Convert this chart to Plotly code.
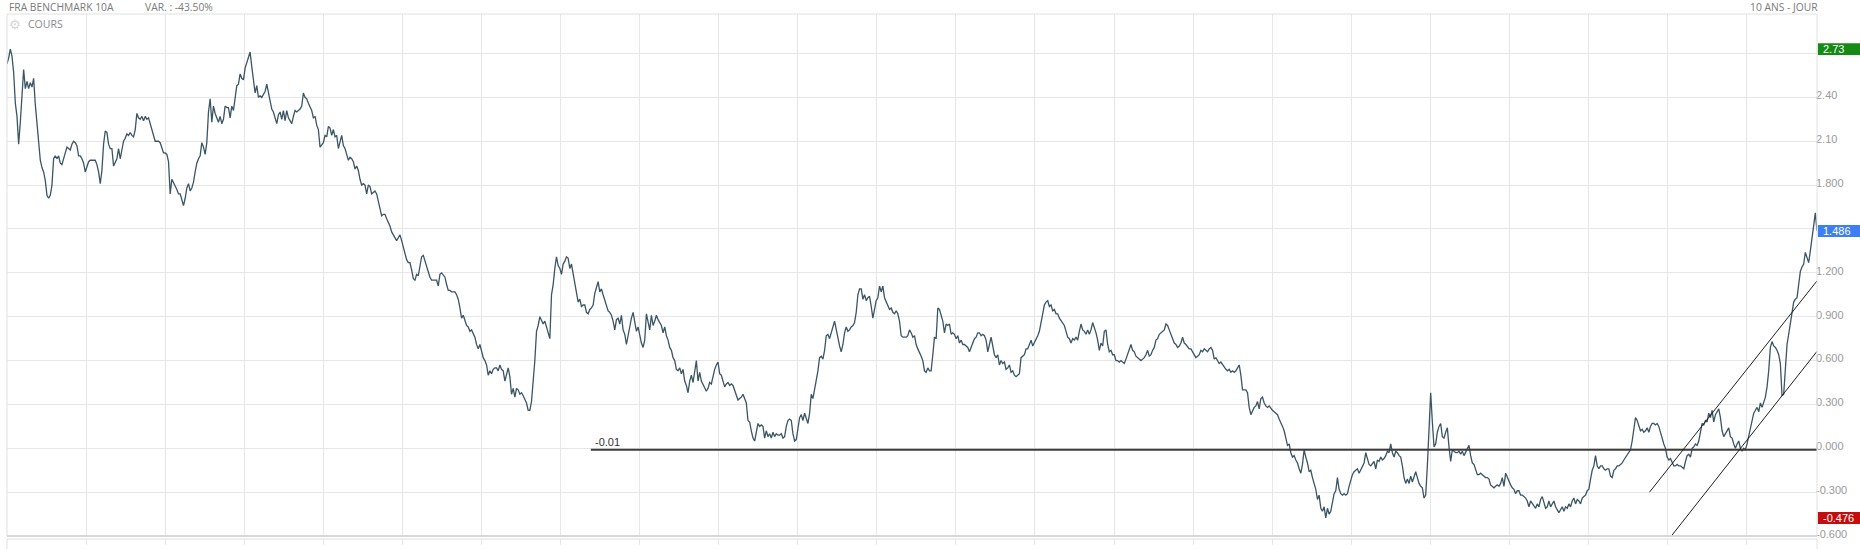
import pandas as pd
import plotly.graph_objects as go

# ---------------- data (FRA Benchmark 10A, 10 ans - jour, sampled evenly) ----------------
START = "2012-05-14"
END = "2022-05-14"
N_STEPS = 1087          # number of sampling steps between START and END

seg_a = [  # first sample index 0
    2.63, 2.67, 2.73, 2.68, 2.57, 2.36, 2.27, 2.08, 2.23, 2.42,
    2.59, 2.46, 2.51, 2.46, 2.50, 2.47, 2.53, 2.35, 2.23, 2.09,
    1.97, 1.92, 1.89, 1.83, 1.73, 1.71, 1.73, 1.80, 1.98, 2.00,
    1.98, 2.00, 1.95, 1.94, 1.98, 2.03, 2.06, 2.05, 2.04, 2.08,
    2.10, 2.09, 2.07, 2.00, 2.00, 1.98, 1.95, 1.89, 1.93, 1.96,
    1.97, 1.97, 1.97, 1.97, 1.94, 1.89, 1.81, 1.90, 2.08, 2.17,
    2.16, 2.08, 2.05, 2.05, 1.93, 1.96, 1.98, 2.05, 1.98, 2.04,
    2.10, 2.12, 2.15, 2.14, 2.16, 2.14, 2.13, 2.18, 2.29, 2.26,
    2.25, 2.27, 2.24, 2.27, 2.25, 2.26, 2.22, 2.18, 2.13, 2.10,
    2.10, 2.10, 2.09, 2.05, 2.02, 2.02, 2.01, 1.96, 1.74, 1.84,
    1.82, 1.79, 1.77, 1.74, 1.74, 1.70, 1.66, 1.71, 1.78, 1.81,
    1.76, 1.78, 1.82, 1.89, 1.95, 1.98, 2.00, 2.09, 2.06, 2.01,
    2.09, 2.30, 2.39, 2.23, 2.34, 2.29, 2.26, 2.23, 2.27, 2.22,
    2.25, 2.34, 2.33, 2.33, 2.26, 2.34, 2.31, 2.41, 2.48, 2.49,
    2.56, 2.53, 2.52, 2.60, 2.64, 2.67, 2.71, 2.61, 2.50, 2.43,
    2.48, 2.40, 2.41, 2.40, 2.42, 2.44, 2.49, 2.43, 2.39, 2.32,
    2.30, 2.25, 2.22, 2.28, 2.30, 2.25, 2.31, 2.24, 2.31, 2.26,
    2.24, 2.22, 2.27, 2.31, 2.30, 2.31, 2.32, 2.34, 2.43, 2.40,
    2.39, 2.36, 2.34, 2.31, 2.26, 2.27, 2.21, 2.18, 2.06, 2.08,
    2.09, 2.14, 2.13, 2.20, 2.19, 2.14, 2.18, 2.13, 2.14, 2.05,
    2.09, 2.14, 2.07, 2.05, 2.01, 1.97, 1.99, 1.98, 1.96, 1.91,
    1.93, 1.90, 1.84, 1.80, 1.81, 1.80, 1.74, 1.80, 1.79, 1.74,
    1.75, 1.76, 1.74, 1.69, 1.64, 1.59, 1.60, 1.60, 1.57, 1.55,
    1.52, 1.48, 1.46, 1.44, 1.42, 1.44, 1.46, 1.42, 1.38, 1.33,
    1.29, 1.27, 1.27, 1.22, 1.16, 1.15, 1.19, 1.18, 1.26, 1.31,
    1.32, 1.28, 1.24, 1.20, 1.17, 1.15, 1.15, 1.15, 1.15, 1.11,
    1.19, 1.20, 1.18, 1.17, 1.12, 1.08, 1.08, 1.07, 1.07, 1.07,
    1.05, 1.02, 0.96,
]
seg_b = [  # first sample index 273
    0.89, 0.91, 0.88, 0.84, 0.83, 0.80, 0.81, 0.78, 0.76, 0.71,
    0.68, 0.71, 0.67, 0.62, 0.60, 0.57, 0.50, 0.53, 0.51, 0.54,
    0.55, 0.55, 0.53, 0.57, 0.54, 0.53, 0.46, 0.51, 0.55, 0.49,
    0.37, 0.41, 0.35, 0.41, 0.40, 0.37, 0.38, 0.36, 0.34, 0.31,
    0.26, 0.26, 0.32, 0.44, 0.60, 0.80, 0.84, 0.90, 0.87, 0.85,
    0.87, 0.83, 0.78, 0.75, 1.05, 1.12, 1.23, 1.31, 1.25, 1.23,
    1.19, 1.26, 1.28, 1.31, 1.30, 1.23, 1.26, 1.19, 1.11, 1.06,
    1.00, 1.02, 0.97, 0.98, 0.98, 0.93, 0.92, 0.95, 0.96, 0.98,
    1.06, 1.10, 1.14, 1.07, 1.09, 1.05, 1.01, 0.98, 0.94, 0.93,
    0.91, 0.87, 0.81, 0.88, 0.89, 0.85, 0.91, 0.81, 0.78, 0.71,
    0.77, 0.85, 0.89, 0.93, 0.86, 0.80, 0.83, 0.76, 0.72, 0.69,
    0.74, 0.92, 0.85, 0.81, 0.91, 0.84, 0.87, 0.91, 0.88, 0.86,
    0.84, 0.79, 0.83, 0.77, 0.74, 0.69, 0.67, 0.62, 0.60, 0.54,
    0.53, 0.55, 0.51, 0.54, 0.46, 0.43, 0.38, 0.46, 0.50, 0.45,
    0.53, 0.60, 0.46, 0.52, 0.46, 0.44, 0.42, 0.39, 0.41, 0.45,
    0.44, 0.50, 0.54, 0.57, 0.59, 0.51, 0.50, 0.46, 0.42, 0.44,
    0.45, 0.43, 0.44, 0.43, 0.40, 0.37, 0.33, 0.34, 0.35, 0.37,
    0.34, 0.31, 0.19, 0.18, 0.12, 0.07, 0.05, 0.11, 0.17, 0.15,
    0.16, 0.15, 0.07, 0.12, 0.08, 0.10, 0.07, 0.11, 0.08, 0.10,
    0.09, 0.09, 0.10, 0.07, 0.08, 0.15, 0.19, 0.20, 0.19, 0.10,
    0.05, 0.06, 0.14, 0.21, 0.23, 0.19, 0.24, 0.20, 0.17, 0.24,
    0.37, 0.34, 0.40, 0.46, 0.53, 0.62, 0.63, 0.61, 0.67, 0.77,
    0.78, 0.75, 0.80, 0.83, 0.87, 0.81, 0.76, 0.70, 0.66, 0.71,
    0.79, 0.83, 0.80, 0.81, 0.83, 0.84, 0.86, 0.93, 1.05, 1.09,
    1.09, 1.02, 1.05, 1.01, 1.03, 1.04, 0.97, 0.89, 0.95, 1.01,
    1.03, 1.11, 1.07, 1.11, 1.03, 1.00, 0.97, 0.95, 0.96, 0.93,
    0.92, 0.94, 0.92, 0.87, 0.77, 0.76, 0.76, 0.76, 0.77, 0.81,
    0.79, 0.76, 0.77, 0.71, 0.68, 0.66, 0.63, 0.60, 0.53, 0.52,
    0.55, 0.53,
]
seg_c = [  # first sample index 555
    0.53, 0.64, 0.76, 0.75, 0.96, 0.95, 0.91, 0.87, 0.79, 0.85,
    0.84, 0.85, 0.78, 0.79, 0.78, 0.75, 0.77, 0.72, 0.74, 0.71,
    0.71, 0.70, 0.69, 0.66, 0.69, 0.72, 0.75, 0.76, 0.79, 0.79,
    0.77, 0.78, 0.77, 0.74, 0.66, 0.71, 0.76, 0.70, 0.64, 0.62,
    0.64, 0.57, 0.60, 0.58, 0.59, 0.54, 0.55, 0.57, 0.52, 0.53,
    0.50, 0.49, 0.50, 0.51, 0.62, 0.63, 0.64, 0.68, 0.68, 0.71,
    0.74, 0.70, 0.72, 0.74, 0.77, 0.80, 0.86, 0.93, 0.98, 1.00,
    1.01, 0.97, 0.98, 0.94, 0.95, 0.92, 0.92, 0.89, 0.87, 0.86,
    0.84, 0.80, 0.76, 0.75, 0.72, 0.75, 0.74, 0.76, 0.74, 0.80,
    0.85, 0.81, 0.80, 0.78, 0.81, 0.78, 0.81, 0.86, 0.83, 0.79,
    0.74, 0.67, 0.72, 0.70, 0.80, 0.81, 0.71, 0.66, 0.67, 0.64,
    0.64, 0.60, 0.60, 0.59, 0.60, 0.59, 0.58, 0.61, 0.64, 0.68,
    0.71, 0.67, 0.66, 0.63, 0.62, 0.61, 0.60, 0.61, 0.62, 0.64,
    0.67, 0.63, 0.64, 0.67, 0.69, 0.74, 0.75, 0.78, 0.79, 0.80,
    0.81, 0.85, 0.84, 0.81, 0.78, 0.76, 0.72, 0.71, 0.69, 0.70,
    0.72, 0.76, 0.72, 0.71, 0.69, 0.68, 0.68, 0.66, 0.63, 0.62,
    0.63, 0.64, 0.67, 0.66, 0.68, 0.67, 0.66, 0.68, 0.69, 0.67,
    0.61, 0.62, 0.60, 0.58, 0.59, 0.57, 0.55, 0.54, 0.53, 0.54,
    0.52, 0.53, 0.52, 0.53, 0.55, 0.57, 0.50, 0.40, 0.40, 0.40,
    0.38, 0.28, 0.23, 0.26, 0.28, 0.29, 0.32, 0.27, 0.34, 0.35,
    0.31, 0.29, 0.28, 0.29, 0.27, 0.26, 0.25, 0.24, 0.23, 0.20,
    0.18, 0.15, 0.12, 0.07, 0.02, 0.03, -0.03, -0.06, -0.05, -0.08,
    -0.10, -0.14, -0.17, -0.11, -0.01, -0.06, -0.10, -0.16, -0.15, -0.20,
    -0.24, -0.28, -0.35, -0.32, -0.41, -0.43, -0.40, -0.476, -0.41, -0.45,
    -0.43, -0.37, -0.31, -0.29, -0.20, -0.28, -0.31, -0.32, -0.31, -0.32,
    -0.31, -0.26, -0.21, -0.18, -0.16, -0.15, -0.14, -0.17, -0.15, -0.12,
    -0.10, -0.03, -0.08, -0.11, -0.12, -0.10, -0.09, -0.14, -0.08, -0.09,
    -0.06, -0.08, -0.07, -0.05, -0.02, -0.03, 0.03, -0.03, -0.06, -0.02,
    -0.03, -0.05,
]
seg_d = [  # first sample index 837
    -0.06, -0.12, -0.20, -0.24, -0.21, -0.24, -0.19, -0.23, -0.20, -0.16,
    -0.20, -0.24, -0.26, -0.27, -0.34, -0.32, -0.12, 0.17, 0.38, 0.18,
    0.01, 0.03, 0.11, 0.15, 0.17, 0.08, 0.07, 0.11, 0.14, 0.01,
    -0.09, -0.01, -0.02, -0.03, -0.03, -0.02, -0.04, -0.02, -0.05, -0.03,
    -0.01, 0.02, -0.05, -0.10, -0.11, -0.15, -0.18, -0.18, -0.17, -0.18,
    -0.19, -0.20, -0.20, -0.21, -0.25, -0.26, -0.27, -0.26, -0.25, -0.26,
    -0.24, -0.20, -0.26, -0.17, -0.20, -0.23, -0.25, -0.27, -0.28, -0.31,
    -0.29, -0.29, -0.32, -0.32, -0.33, -0.34, -0.36, -0.40, -0.36, -0.38,
    -0.40, -0.41, -0.38, -0.40, -0.35, -0.33, -0.37, -0.41, -0.40, -0.36,
    -0.40, -0.38, -0.36, -0.40, -0.42, -0.44, -0.42, -0.40, -0.43, -0.40,
    -0.41, -0.38, -0.40, -0.36, -0.34, -0.38, -0.35, -0.36, -0.38, -0.34,
    -0.33, -0.32, -0.29, -0.28, -0.21, -0.15, -0.12, -0.05, -0.12, -0.14,
]
seg_e = [  # first sample index 957
    -0.12, -0.12, -0.14, -0.15, -0.14, -0.14, -0.19, -0.20, -0.15, -0.14,
    -0.12, -0.12, -0.11, -0.10, -0.08, -0.06, -0.05, -0.03, -0.01, 0.05,
    0.12, 0.21, 0.19, 0.15, 0.12, 0.13, 0.11, 0.12, 0.14, 0.11,
    0.15, 0.17, 0.17, 0.16, 0.17, 0.15, 0.10, 0.07, 0.03, 0.00,
    -0.06, -0.08, -0.07, -0.10, -0.12, -0.12, -0.11, -0.12, -0.12, -0.13,
    -0.14, -0.09, -0.05, -0.04, -0.06, 0.00, 0.01, 0.03, 0.02, 0.05,
    0.10, 0.17, 0.16, 0.19, 0.18, 0.24, 0.21, 0.26, 0.18, 0.23,
    0.25, 0.27, 0.21, 0.12, 0.08, 0.10, 0.11, 0.14, 0.08, 0.07,
    0.03, 0.00, 0.03, 0.05, 0.00, -0.02, 0.00, -0.01, 0.03, 0.08,
    0.15, 0.19, 0.24, 0.26, 0.28, 0.25, 0.31, 0.28, 0.32, 0.35,
    0.42, 0.53, 0.69, 0.73, 0.70, 0.69, 0.67, 0.64, 0.58, 0.36,
    0.37, 0.55, 0.71, 0.78, 0.85, 0.92, 1.00, 1.02,
]
seg_f = [  # first sample index 1075
    1.03, 1.12, 1.21, 1.24, 1.26, 1.34, 1.31, 1.27, 1.35, 1.43, 1.53, 1.61, 1.486,
]
segments = [(0, seg_a), (273, seg_b), (555, seg_c), (837, seg_d), (957, seg_e), (1075, seg_f)]

# horizontal support drawn on the chart and the rising channel
support_dates = ["2015-08-05", END]
support_values = [-0.01, -0.01]
upper_channel_dates = ["2021-06-10", END]
upper_channel_values = [-0.30, 1.145]
lower_channel_dates = ["2021-07-24", END]
lower_channel_values = [-0.60, 0.663]

# labels at 2.70 and 1.500 sit under the max / last-value badges in the reference
y_tickvals = [-0.6, -0.3, 0.0, 0.3, 0.6, 0.9, 1.2, 1.5, 1.8, 2.1, 2.4, 2.7]
y_ticktext = ["-0.600", "-0.300", "0.000", "0.300", "0.600", "0.900", "1.200",
              "", "1.800", "2.10", "2.40", ""]

# ---------------- build series ----------------
t0 = pd.Timestamp(START)
t1 = pd.Timestamp(END)
step = (t1 - t0) / N_STEPS
dates, values = [], []
for i0, seg in segments:
    for j, v in enumerate(seg):
        dates.append(t0 + step * (i0 + j))
        values.append(v)

v_max = max(values)
v_min = min(values)
v_last = values[-1]

Y_RANGE = [-0.6, 2.97]
W, H = 1860, 549
M_L, M_R, M_T, M_B = 7, 43, 14, 0
PLOT_W = W - M_L - M_R
PAPER_H = H - M_T - M_B
MAIN_BOTTOM = 9 / PAPER_H       # main panel bottom (paper units)
LOWER_TOP = 6 / PAPER_H         # volume-panel top (paper units)
MAIN_H_PX = PAPER_H * (1 - MAIN_BOTTOM)
px_to_y = (Y_RANGE[1] - Y_RANGE[0]) / MAIN_H_PX

GRID_DAYS = 159.55
GRID_MS = GRID_DAYS * 86400000

GRID = "#e6e6e6"
LINE = "#3a5564"
TICK_FONT = dict(family="Liberation Sans, Arial, sans-serif", size=11, color="#999999")

fig = go.Figure()
fig.add_trace(go.Scatter(x=dates, y=values, mode="lines",
                         line=dict(color=LINE, width=1.3), hoverinfo="skip", showlegend=False))
fig.add_trace(go.Scatter(x=support_dates, y=support_values, mode="lines",
                         line=dict(color="#3c3c3c", width=2), hoverinfo="skip", showlegend=False))
fig.add_trace(go.Scatter(x=upper_channel_dates, y=upper_channel_values, mode="lines",
                         line=dict(color="#1f1f1f", width=1), hoverinfo="skip", showlegend=False))
fig.add_trace(go.Scatter(x=lower_channel_dates, y=lower_channel_values, mode="lines",
                         line=dict(color="#1f1f1f", width=1), hoverinfo="skip", showlegend=False))
# invisible trace to create the cut-off lower (volume) panel
fig.add_trace(go.Scatter(x=[t0, t1], y=[0, 0], xaxis="x2", yaxis="y2", mode="lines",
                         line=dict(color="rgba(0,0,0,0)", width=1), hoverinfo="skip", showlegend=False))

shapes = [
    dict(type="rect", xref="paper", yref="paper", x0=0, x1=1, y0=MAIN_BOTTOM, y1=1,
         line=dict(color="#e0e0e0", width=1), fillcolor="rgba(0,0,0,0)", layer="above"),
    dict(type="line", xref="paper", yref="paper", x0=0, x1=1, y0=MAIN_BOTTOM, y1=MAIN_BOTTOM,
         line=dict(color="#d8d8d8", width=2), layer="above"),
    dict(type="rect", xref="paper", yref="paper", x0=0, x1=1, y0=-0.01, y1=LOWER_TOP,
         line=dict(color="#e0e0e0", width=1), fillcolor="rgba(0,0,0,0)", layer="above"),
]
badge_half = 6 * px_to_y
badge_x1 = 1 + M_R / PLOT_W
badges = [(v_max, f"{v_max:.2f}", "#158a15"), (v_last, f"{v_last:.3f}", "#3d7ff2"),
          (v_min, f"{v_min:.3f}", "#c40d0d")]
annotations = []
for v, txt, col in badges:
    shapes.append(dict(type="rect", xref="paper", yref="y", x0=1.0005, x1=badge_x1,
                       y0=v - badge_half, y1=v + badge_half, line=dict(width=0),
                       fillcolor=col, layer="above"))
    annotations.append(dict(xref="paper", yref="y", x=1, y=v, xanchor="left", yanchor="middle",
                            xshift=4, text=txt, showarrow=False,
                            font=dict(family="Liberation Sans, Arial, sans-serif", size=11, color="white")))

HEAD_FONT = dict(family="Open Sans, sans-serif", size=10.3, color="#7a7a7a")
annotations += [
    dict(xref="paper", yref="paper", x=0, y=1 + 7.5 / PAPER_H, xanchor="left", yanchor="middle",
         xshift=0, text="FRA BENCHMARK 10A", showarrow=False, font=HEAD_FONT),
    dict(xref="paper", yref="paper", x=0, y=1 + 7.5 / PAPER_H, xanchor="left", yanchor="middle",
         xshift=136, text="VAR. : -43.50%", showarrow=False, font=HEAD_FONT),
    dict(xref="paper", yref="paper", x=1, y=1 + 7.5 / PAPER_H, xanchor="right", yanchor="middle",
         xshift=3, text="10 ANS - JOUR", showarrow=False, font=HEAD_FONT),
    dict(xref="paper", yref="paper", x=0, y=1 - 10.5 / PAPER_H, xanchor="center", yanchor="middle",
         xshift=8, text="⚙", showarrow=False,
         font=dict(family="DejaVu Sans", size=13, color="#d6d6d6")),
    dict(xref="paper", yref="paper", x=0, y=1 - 10.5 / PAPER_H, xanchor="left", yanchor="middle",
         xshift=19, text="COURS", showarrow=False,
         font=dict(family="Open Sans, sans-serif", size=10.5, color="#8a8a8a")),
    dict(x=support_dates[0], y=support_values[0], xref="x", yref="y", xanchor="left",
         yanchor="bottom", xshift=2, yshift=0, text=f"{support_values[0]:.2f}", showarrow=False,
         font=dict(family="Liberation Sans, Arial, sans-serif", size=11, color="#333333")),
]

fig.update_layout(
    width=W, height=H, margin=dict(l=M_L, r=M_R, t=M_T, b=M_B, pad=0),
    paper_bgcolor="white", plot_bgcolor="white", showlegend=False,
    xaxis=dict(domain=[0, 1], anchor="y", range=[t0, t1], type="date", showticklabels=False,
               showgrid=True, gridcolor=GRID, gridwidth=1, tickmode="linear", tick0=START,
               dtick=GRID_MS, zeroline=False, ticks="", showline=False),
    yaxis=dict(domain=[MAIN_BOTTOM, 1], anchor="x", range=Y_RANGE, side="right",
               tickmode="array", tickvals=y_tickvals, ticktext=y_ticktext,
               showgrid=True, gridcolor=GRID, gridwidth=1, zeroline=False, ticks="",
               tickfont=TICK_FONT, ticklabelstandoff=-2, ticklabelshift=-2, showline=False),
    xaxis2=dict(domain=[0, 1], anchor="y2", matches="x", type="date", showticklabels=False,
                showgrid=True, gridcolor=GRID, gridwidth=1, tickmode="linear", tick0=START,
                dtick=GRID_MS, zeroline=False, ticks=""),
    yaxis2=dict(domain=[0, LOWER_TOP], anchor="x2", range=[0, 1], showticklabels=False,
                showgrid=False, zeroline=False, ticks=""),
    shapes=shapes, annotations=annotations,
)

fig.write_html("out.html", config={"displayModeBar": False},
               post_script="document.body.style.margin='0px';document.body.style.overflow='hidden';")
